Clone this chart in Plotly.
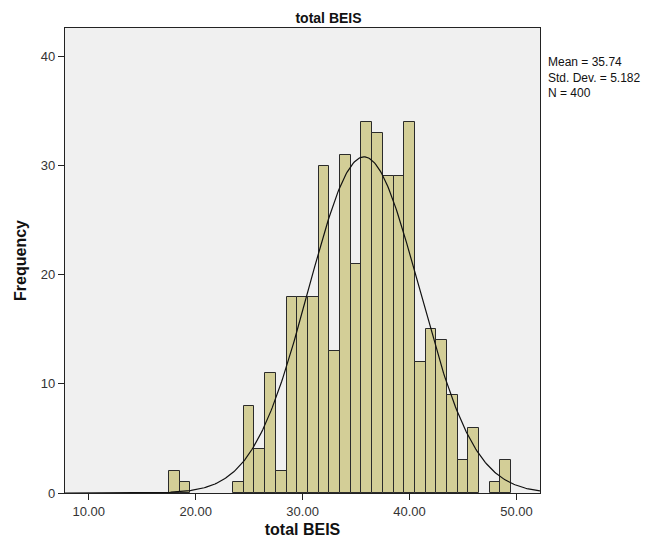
import numpy as np
import plotly.graph_objects as go

# Histogram bins (centers, width 1) and their frequencies
bin_centers = [18, 19, 24, 25, 26, 27, 28, 29, 30, 31, 32, 33, 34, 35, 36, 37, 38, 39, 40,
               41, 42, 43, 44, 45, 46, 48, 49]
frequencies = [2, 1, 1, 8, 4, 11, 2, 18, 18, 18, 30, 13, 31, 21, 34, 33, 29, 29, 34,
               12, 15, 14, 9, 3, 6, 1, 3]
bin_width = 1.0

mean_val = 35.74
std_val = 5.182
n_val = 400

x_tickvals = [10, 20, 30, 40, 50]
y_tickvals = [0, 10, 20, 30, 40]

x_range = [7.78, 52.2]
y_range = [0, 42.6]

# normal curve scaled to counts
xc = np.linspace(x_range[0], x_range[1], 400)
yc = n_val * bin_width / (std_val * np.sqrt(2 * np.pi)) * np.exp(-0.5 * ((xc - mean_val) / std_val) ** 2)

fig = go.Figure()
fig.add_trace(go.Bar(
    x=bin_centers, y=frequencies, width=bin_width,
    marker=dict(color="#D3CE97", line=dict(color="#2b2b2b", width=1)),
    hoverinfo="x+y", showlegend=False,
))
fig.add_trace(go.Scatter(
    x=xc, y=yc, mode="lines", line=dict(color="#111111", width=1.2),
    showlegend=False, hoverinfo="skip",
))

font_family = "Liberation Sans, Arial, sans-serif"

W, H = 641, 540  # page body has an 8px margin
fig.update_layout(
    width=W, height=H,
    margin=dict(l=54, r=109, t=20, b=54),
    paper_bgcolor="white",
    plot_bgcolor="#F0F0F0",
    bargap=0,
    font=dict(family=font_family, size=13, color="#222222"),
    title=dict(text="<b>total BEIS</b>", x=0.5, xanchor="center", y=1 - 10 / H, yanchor="middle",
               pad=dict(t=0, b=0),
               font=dict(family=font_family, size=14, color="#111111")),
    xaxis=dict(
        range=x_range, tickvals=x_tickvals, ticktext=[f"{v:.2f}" for v in x_tickvals],
        ticks="outside", ticklen=6, tickcolor="#222222", showgrid=False, zeroline=False,
        showline=True, linecolor="#222222", linewidth=1.2, mirror=True,
        tickfont=dict(size=13, color="#333333"),
        title=dict(text="<b>total BEIS</b>", font=dict(size=16, color="#111111"), standoff=6),
    ),
    yaxis=dict(
        range=y_range, tickvals=y_tickvals,
        ticks="outside", ticklen=6, tickcolor="#222222", showgrid=False, zeroline=False,
        showline=True, linecolor="#222222", linewidth=1.2, mirror=True,
        tickfont=dict(size=13, color="#333333"),
        title=dict(text="<b>Frequency</b>", font=dict(size=16, color="#111111"), standoff=10),
    ),
    annotations=[dict(
        text=f"Mean = {mean_val:.2f}<br>Std. Dev. = {std_val:.3f}<br>N = {n_val}",
        xref="paper", yref="paper", x=1.012, y=0.947, xanchor="left", yanchor="top",
        align="left", showarrow=False, font=dict(size=12, color="#111111"),
    )],
)

fig.write_html("out.html")
